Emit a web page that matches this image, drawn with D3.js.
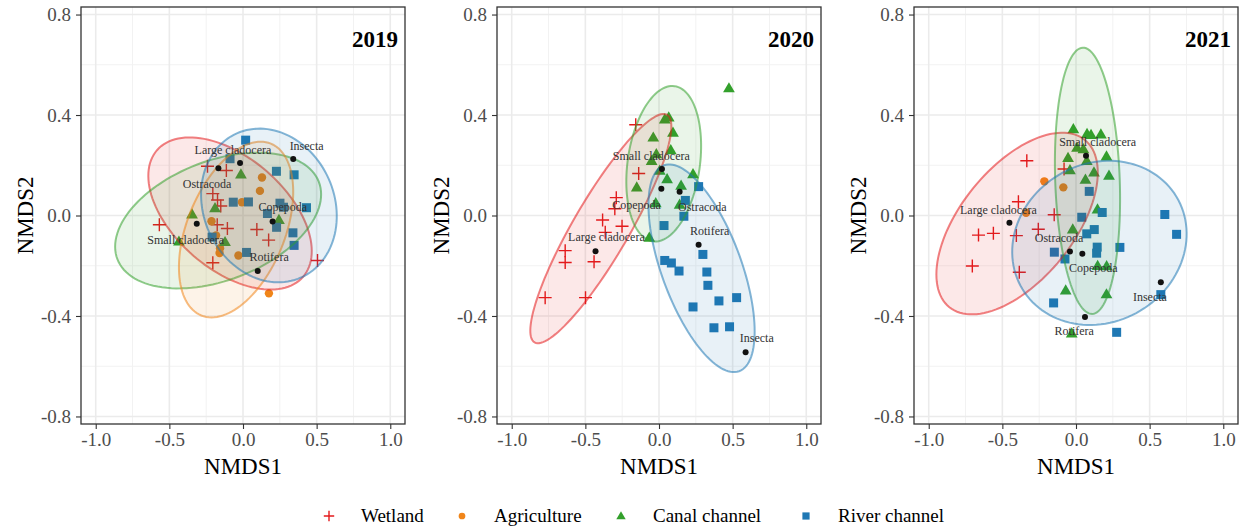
<!DOCTYPE html>
<html>
<head>
<meta charset="utf-8">
<script src="https://cdn.jsdelivr.net/npm/d3@7"></script>
<style>
  body { margin: 0; background: #fff; }
  text { font-family: "Liberation Serif", "Times New Roman", serif; }
</style>
</head>
<body>
<svg id="chart" width="1244" height="529"></svg>
<script>
// ---- categories & ticks ----
const years = ["2019", "2020", "2021"];
const groups = ["Wetland", "Agriculture", "Canal channel", "River channel"];
const groupColors = ["#E41A1C", "#F08519", "#33A02C", "#1F78B4"];
const xTicks = [-1.0, -0.5, 0.0, 0.5, 1.0];
const yTicks = [-0.8, -0.4, 0.0, 0.4, 0.8];
const xMinorTicks = [-0.75, -0.25, 0.25, 0.75];
const yMinorTicks = [-0.6, -0.2, 0.2, 0.6];

// ---- site scores (NMDS1, NMDS2) ----
const wetland2019 = [[-0.241,0.196],[-0.113,0.179],[-0.205,0.087],[-0.173,0.062],[-0.151,0.038],[-0.568,-0.037],
  [-0.175,-0.037],[-0.106,-0.052],[0.094,-0.056],[0.174,-0.098],[-0.205,-0.188],[0.506,-0.179]];
const agri2019 = [[0.129,0.151],[0.115,0.098],[-0.007,0.053],[-0.214,-0.023],[-0.183,-0.079],[-0.156,-0.13],
  [-0.159,-0.149],[-0.031,-0.159],[0.176,-0.31]];
const canal2019 = [[-0.014,0.164],[-0.346,0.005],[-0.19,0.03],[-0.435,-0.103],[-0.122,-0.105],[0.244,-0.017]];
const river2019 = [[0.018,0.3],[-0.088,0.226],[0.227,0.176],[0.347,0.162],[-0.066,0.053],[0.037,0.054],[0.251,0.049],
  [0.275,0.033],[0.431,0.031],[0.166,0.008],[0.228,-0.047],[0.339,-0.069],[0.347,-0.119],[-0.21,-0.086],[0.024,-0.147]];

const wetland2020 = [[-0.158,0.361],[-0.138,0.167],[-0.29,0.071],[-0.3,0.027],[-0.383,-0.018],[-0.251,-0.043],
  [-0.365,-0.067],[-0.637,-0.14],[-0.637,-0.187],[-0.441,-0.184],[-0.773,-0.327],[-0.499,-0.327]];
const agri2020 = [];
const canal2020 = [[0.475,0.507],[0.039,0.383],[0.066,0.391],[0.095,0.33],[-0.039,0.311],[0.08,0.261],[-0.018,0.245],
  [-0.05,0.218],[0.005,0.179],[0.231,0.165],[0.055,0.145],[0.15,0.119],[-0.151,0.112],[-0.022,0.05],[0.14,0.044],[-0.066,-0.088]];
const river2020 = [[0.269,0.115],[0.179,0.06],[0.169,-0.003],[0.034,-0.04],[0.039,-0.179],[0.084,-0.189],[0.136,-0.221],
  [0.298,-0.155],[0.325,-0.225],[0.332,-0.278],[0.407,-0.34],[0.527,-0.327],[0.231,-0.364],[0.373,-0.447],[0.479,-0.443]];

const wetland2021 = [[-0.334,0.218],[-0.081,0.185],[-0.391,0.055],[-0.148,0.003],[-0.662,-0.078],[-0.561,-0.071],
  [-0.405,-0.08],[-0.256,-0.055],[-0.704,-0.201],[-0.385,-0.226]];
const agri2021 = [[-0.215,0.136],[-0.086,0.112],[-0.339,0.011]];
const canal2021 = [[-0.018,0.344],[0.075,0.325],[0.102,0.321],[0.169,0.323],[0.007,0.27],[0.05,0.265],[-0.054,0.23],
  [0.207,0.236],[0.073,0.218],[-0.041,0.181],[0.122,0.172],[0.224,0.159],[0.064,0.143],[0.146,0.025],[-0.022,-0.055],
  [0.147,-0.2],[0.208,-0.201],[-0.07,-0.298],[0.207,-0.313],[-0.029,-0.469]];
const river2021 = [[0.09,0.096],[0.178,0.012],[0.039,-0.007],[0.124,-0.056],[0.073,-0.073],[0.144,-0.126],[0.14,-0.15],
  [0.298,-0.127],[-0.147,-0.146],[-0.075,-0.173],[0.603,0.004],[0.683,-0.075],[0.576,-0.315],[-0.152,-0.348],[0.276,-0.465]];

// ---- species scores: name, score x/y, label x/y ----
const species2019 = [
  ["Large cladocera", -0.02, 0.209, -0.068, 0.262],
  ["Ostracoda", -0.167, 0.188, -0.244, 0.127],
  ["Insecta", 0.341, 0.225, 0.432, 0.278],
  ["Copepoda", 0.201, -0.024, 0.27, 0.032],
  ["Rotifera", 0.1, -0.221, 0.177, -0.167],
  ["Small cladocera", -0.314, -0.033, -0.389, -0.096]];
const species2020 = [
  ["Small cladocera", 0.02, 0.185, -0.052, 0.238],
  ["Copepoda", 0.016, 0.106, -0.153, 0.04],
  ["Ostracoda", 0.14, 0.095, 0.294, 0.033],
  ["Rotifera", 0.269, -0.116, 0.344, -0.063],
  ["Large cladocera", -0.431, -0.142, -0.357, -0.086],
  ["Insecta", 0.588, -0.544, 0.664, -0.489]];
const species2021 = [
  ["Small cladocera", 0.068, 0.238, 0.147, 0.291],
  ["Large cladocera", -0.452, -0.029, -0.527, 0.023],
  ["Ostracoda", -0.041, -0.143, -0.115, -0.088],
  ["Copepoda", 0.043, -0.152, 0.117, -0.209],
  ["Insecta", 0.576, -0.266, 0.502, -0.324],
  ["Rotifera", 0.061, -0.404, -0.012, -0.46]];

// ---- 95% group ellipses: group index, centre, two conjugate semi-axis vectors (NMDS units) ----
const ellipses2019 = [
  [0, [-0.088, 0.008], [0.496, -0.252], [-0.249, -0.168]],
  [2, [-0.169, -0.020], [0.684, 0.154], [0.146, -0.222]],
  [1, [-0.047, -0.056], [0.236, 0.342], [0.308, -0.073]],
  [3, [0.176, 0.04], [0.218, -0.287], [-0.406, -0.106]]];
const ellipses2020 = [
  [0, [-0.395, -0.052], [0.45, 0.453], [0.164, -0.056]],
  [2, [0.032, 0.206], [0.074, 0.309], [0.243, -0.02]],
  [3, [0.289, -0.21], [0.255, -0.41], [-0.255, -0.054]]];
const ellipses2021 = [
  [0, [-0.4, -0.032], [0.46, 0.333], [0.298, -0.141]],
  [2, [0.078, 0.138], [0.032, -0.53], [-0.219, -0.0045]],
  [3, [0.159, -0.109], [0.523, 0.184], [0.278, -0.27]]];

const panels = [
  { sites: [wetland2019, agri2019, canal2019, river2019], species: species2019, ellipses: ellipses2019 },
  { sites: [wetland2020, agri2020, canal2020, river2020], species: species2020, ellipses: ellipses2020 },
  { sites: [wetland2021, agri2021, canal2021, river2021], species: species2021, ellipses: ellipses2021 }];

// ---- layout ----
const svg = d3.select("#chart");
const panelLeft = [81, 497, 914];
const panelTop = 7, panelW = 324, panelH = 417;
const fmt = d => d.toFixed(1);

// marker drawing for each group
function drawMarker(sel, gi, px, py, scale) {
  const c = groupColors[gi];
  const s = scale || 1;
  if (gi === 0) {
    const h = 6.5 * s;
    sel.append("path")
      .attr("d", `M${px - h},${py}H${px + h}M${px},${py - h}V${py + h}`)
      .attr("stroke", c).attr("stroke-width", 1.4).attr("fill", "none");
  } else if (gi === 1) {
    sel.append("circle").attr("cx", px).attr("cy", py).attr("r", 4.2 * s).attr("fill", c);
  } else if (gi === 2) {
    sel.append("path")
      .attr("d", d3.symbol(d3.symbolTriangle, 60 * s * s)())
      .attr("transform", `translate(${px},${py + 0.8 * s})`)
      .attr("fill", c);
  } else {
    const w = 9 * s;
    sel.append("rect").attr("x", px - w / 2).attr("y", py - w / 2)
      .attr("width", w).attr("height", w).attr("fill", c);
  }
}

panels.forEach((p, i) => {
  const g = svg.append("g").attr("transform", `translate(${panelLeft[i]},${panelTop})`);
  const x = d3.scaleLinear().domain([-1.1, 1.1]).range([0, panelW]);
  const y = d3.scaleLinear().domain([-0.83, 0.83]).range([panelH, 0]);

  g.append("clipPath").attr("id", "clip" + i)
    .append("rect").attr("width", panelW).attr("height", panelH);

  // grid
  const grid = g.append("g");
  grid.selectAll(".xm").data(xMinorTicks).join("line")
    .attr("x1", d => x(d)).attr("x2", d => x(d)).attr("y1", 0).attr("y2", panelH)
    .attr("stroke", "#f2f2f2").attr("stroke-width", 1);
  grid.selectAll(".ym").data(yMinorTicks).join("line")
    .attr("y1", d => y(d)).attr("y2", d => y(d)).attr("x1", 0).attr("x2", panelW)
    .attr("stroke", "#f2f2f2").attr("stroke-width", 1);
  grid.selectAll(".xM").data(xTicks).join("line")
    .attr("x1", d => x(d)).attr("x2", d => x(d)).attr("y1", 0).attr("y2", panelH)
    .attr("stroke", "#ebebeb").attr("stroke-width", 1.6);
  grid.selectAll(".yM").data(yTicks).join("line")
    .attr("y1", d => y(d)).attr("y2", d => y(d)).attr("x1", 0).attr("x2", panelW)
    .attr("stroke", "#ebebeb").attr("stroke-width", 1.6);

  const plot = g.append("g").attr("clip-path", `url(#clip${i})`);

  // site points
  p.sites.forEach((pts, gi) => {
    pts.forEach(d => drawMarker(plot, gi, x(d[0]), y(d[1]), 1));
  });

  // group ellipses
  const line = d3.line().x(d => x(d[0])).y(d => y(d[1])).curve(d3.curveLinearClosed);
  p.ellipses.forEach(([gi, c, u, v]) => {
    const pts = d3.range(120).map(k => {
      const t = 2 * Math.PI * k / 120;
      return [c[0] + u[0] * Math.cos(t) + v[0] * Math.sin(t),
              c[1] + u[1] * Math.cos(t) + v[1] * Math.sin(t)];
    });
    plot.append("path").attr("d", line(pts))
      .attr("fill", groupColors[gi]).attr("fill-opacity", 0.1)
      .attr("stroke", groupColors[gi]).attr("stroke-opacity", 0.55).attr("stroke-width", 2);
  });

  // species scores
  plot.selectAll(".sp").data(p.species).join("circle")
    .attr("cx", d => x(d[1])).attr("cy", d => y(d[2])).attr("r", 3)
    .attr("fill", "#111");
  plot.selectAll(".spl").data(p.species).join("text")
    .attr("x", d => x(d[3])).attr("y", d => y(d[4])).attr("dy", "0.33em")
    .attr("text-anchor", "middle").attr("font-size", 12).attr("fill", "#333")
    .text(d => d[0]);

  // year title
  g.append("text").attr("x", panelW - 7).attr("y", 40)
    .attr("text-anchor", "end").attr("font-size", 23).attr("font-weight", "bold")
    .attr("fill", "#000").text(years[i]);

  // border
  g.append("rect").attr("width", panelW).attr("height", panelH)
    .attr("fill", "none").attr("stroke", "#333").attr("stroke-width", 1.3);

  // axes
  const ax = g.append("g").attr("transform", `translate(0,${panelH})`)
    .call(d3.axisBottom(x).tickValues(xTicks).tickFormat(fmt).tickSize(5).tickPadding(4));
  const ay = g.append("g")
    .call(d3.axisLeft(y).tickValues(yTicks).tickFormat(fmt).tickSize(5).tickPadding(5));
  [ax, ay].forEach(a => {
    a.select(".domain").remove();
    a.selectAll(".tick line").attr("stroke", "#333").attr("stroke-width", 1.1);
    a.selectAll(".tick text").attr("font-family", "Liberation Serif").attr("font-size", 19).attr("fill", "#4d4d4d");
  });

  // axis titles
  g.append("text").attr("x", panelW / 2).attr("y", 467)
    .attr("text-anchor", "middle").attr("font-size", 23).attr("fill", "#000").text("NMDS1");
  g.append("text").attr("transform", `translate(-48,${panelH / 2}) rotate(-90)`)
    .attr("text-anchor", "middle").attr("font-size", 23).attr("fill", "#000").text("NMDS2");
});

// legend
const legendX = [329, 462, 621, 806];
const lg = svg.append("g");
groups.forEach((name, gi) => {
  drawMarker(lg, gi, legendX[gi], 516, 0.8);
  lg.append("text").attr("x", legendX[gi] + 32).attr("y", 516).attr("dy", "0.33em")
    .attr("font-size", 19).attr("fill", "#000").text(name);
});
</script>
</body>
</html>
